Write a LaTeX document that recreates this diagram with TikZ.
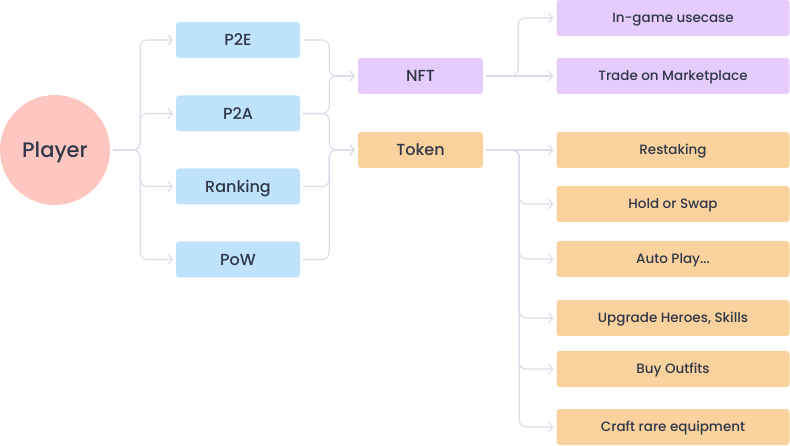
\documentclass[tikz,border=0pt]{standalone}
\usepackage{fontspec}
\setmainfont{Poppins}[UprightFont = * Medium]
\usetikzlibrary{arrows.meta, positioning}
\definecolor{txt}{HTML}{2F3747}
\definecolor{wire}{HTML}{D8DDE8}
\definecolor{pinkfill}{HTML}{FDC6C0}
\definecolor{bluefill}{HTML}{BFE3FC}
\definecolor{purplefill}{HTML}{E5CCFC}
\definecolor{orangefill}{HTML}{FAD29E}
\tikzstyle{player} = [circle, minimum size = 110pt, inner sep = 0, fill = pinkfill, text = txt, text height = 18.5pt, text depth = 3.5pt, font = \fontsize{21}{25}\selectfont]
\tikzstyle{earn} = [rectangle, rounded corners = 3pt, minimum width = 124pt, minimum height = 36pt, inner sep = 0, fill = bluefill, text = txt, text height = 14pt, text depth = 2.8pt, font = \fontsize{16}{19}\selectfont]
\tikzstyle{asset} = [earn, minimum width = 125pt]
\tikzstyle{usecase} = [rectangle, rounded corners = 3pt, minimum width = 233pt, minimum height = 36pt, inner sep = 0, text = txt, text height = 11.8pt, text depth = 2.4pt, font = \fontsize{13.5}{16}\selectfont]
\tikzstyle{arrow} = [draw = wire, line width = 1.1pt, rounded corners = 7pt, -{Straight Barb[length = 4pt, width = 10pt]}, shorten > = 3pt, shorten < = 3pt]

\begin{document}
\begin{tikzpicture}[x = 1pt, y = -1pt]
\useasboundingbox (0,0) rectangle (790,446);

%NODES
\node (player) [player] at (55,150) {Player};
\node (p2e) [earn] at (238,40) {P2E};
\node (p2a) [earn] at (238,113.5) {P2A};
\node (ranking) [earn] at (238,186.5) {Ranking};
\node (pow) [earn] at (238,259.5) {PoW};
\node (nft) [asset, fill = purplefill] at (420.5,76) {NFT};
\node (token) [asset, fill = orangefill] at (420.5,150) {Token};
\node (ingame) [usecase, fill = purplefill] at (673,18) {In-game usecase};
\node (trade) [usecase, fill = purplefill] at (673,76) {Trade on Marketplace};
\node (restaking) [usecase, fill = orangefill] at (673,150) {Restaking};
\node (hold) [usecase, fill = orangefill] at (673,204) {Hold or Swap};
\node (autoplay) [usecase, fill = orangefill] at (673,259) {Auto Play...};
\node (upgrade) [usecase, fill = orangefill] at (673,318) {Upgrade Heroes, Skills};
\node (outfits) [usecase, fill = orangefill] at (673,369) {Buy Outfits};
\node (craft) [usecase, fill = orangefill] at (673,427) {Craft rare equipment};

%ARROWS
\foreach \n in {p2e, p2a, ranking, pow}
  \draw [arrow] (player.east) -- ++(30,0) |- (\n.west);
\foreach \n in {p2e, p2a}
  \draw [arrow] (\n.east) -- ++(29,0) |- (nft.west);
\foreach \n in {p2a, ranking, pow}
  \draw [arrow] (\n.east) -- ++(29,0) |- (token.west);
\draw [arrow] (nft.east) -- ++(35,0) |- (ingame.west);
\draw [arrow] (nft.east) -- (trade.west);
\draw [arrow] (token.east) -- (restaking.west);
\foreach \n in {hold, autoplay, upgrade, outfits, craft}
  \draw [arrow] (token.east) -- ++(36,0) |- (\n.west);

\end{tikzpicture}
\end{document}
